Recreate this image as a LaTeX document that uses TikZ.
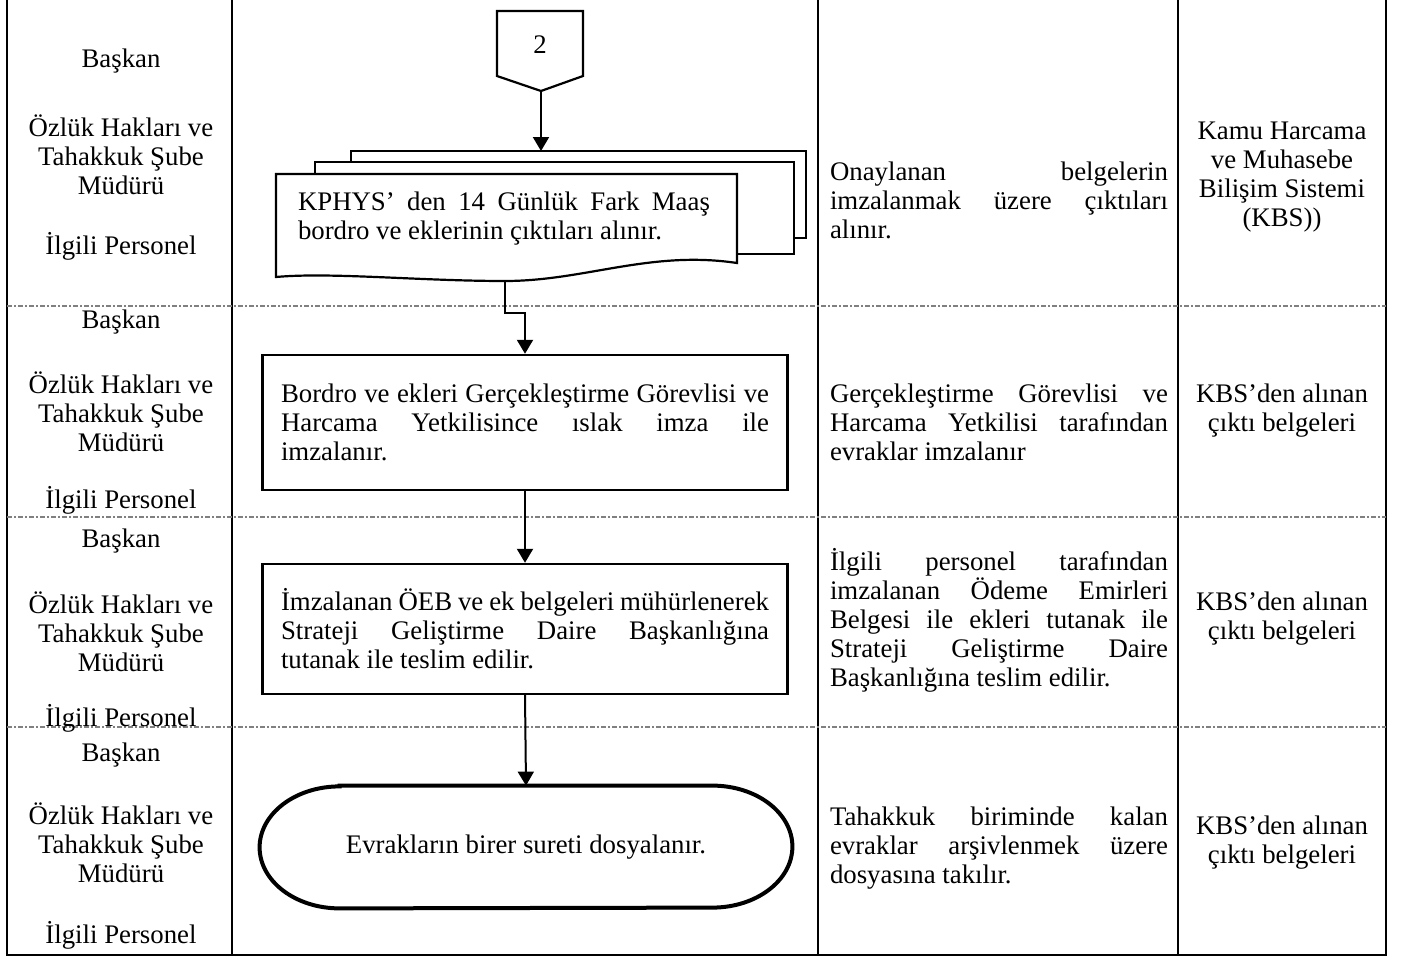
\documentclass[tikz,border=0pt]{standalone}
\usepackage{fontspec}
\setmainfont{Liberation Serif}
\usetikzlibrary{arrows.meta,calc}

\tikzset{
  every node/.style={font=\fontsize{13.4}{14.5}\selectfont, inner sep=0pt},
  gridline/.style={line width=1pt},
  sepline/.style={gray, line width=0.6pt, dash pattern=on 2.5pt off 1pt on 1pt off 1pt},
  shapeline/.style={line width=1.1pt},
  lane/.style={align=center},
  aciklama/.style={text width=169pt, align=justify},
  doctext/.style={text width=206pt, align=justify},
  procbox/.style={draw, line width=1.2pt, text width=244pt, align=justify, inner xsep=9.2pt},
  termtext/.style={minimum width=266pt, minimum height=61pt, align=center},
  akis/.style={line width=1pt, -{Triangle[length=7pt,width=8pt]}}
}

\begin{document}
\begin{tikzpicture}[x=0.5pt,y=-0.5pt]
  \useasboundingbox (0,0) rectangle (1404,958);

  % table
  \draw[gridline] (7,0) -- (7,955) -- (1386,955) -- (1386,0);
  \draw[gridline] (232,0) -- (232,955);
  \draw[gridline] (818,0) -- (818,955);
  \draw[gridline] (1178,0) -- (1178,955);
  \foreach \y in {306,517,727}
    \draw[sepline] (7,\y) -- (1386,\y);

  % lanes
  \foreach \r/\b/\m/\i in {1/61/155/246, 2/322/412/500, 3/541/632/718, 4/755/843/935} {
    \node[lane] (baskan\r) at (121,\b) {Başkan};
    \node[lane] (mudur\r) at (121,\m) {Özlük Hakları ve\\Tahakkuk Şube\\Müdürü};
    \node[lane] (personel\r) at (121,\i) {İlgili Personel};
  }

  % off-page connector
  \draw[shapeline] (497,11) -- (583,11) -- (583,76) -- (541,91) -- (497,76) -- cycle;
  \node (sayfa) at (540,45) {2};
  \coordinate (sayfaUc) at (541,91);

  % multi document
  \draw[shapeline, fill=white] (351,151) rectangle (806,238);
  \draw[shapeline, fill=white] (315,162) rectangle (794,254);
  \draw[shapeline, fill=white] (276,174) -- (737,174) -- (737,263)
    .. controls (650,250) and (585,281) .. (505,281)
    .. controls (420,281) and (330,272) .. (276,277) -- cycle;
  \node[doctext] (kphys) at (504,219) {KPHYS’ den 14 Günlük Fark Maaş\linebreak bordro ve eklerinin çıktıları alınır.};
  \coordinate (belgeUst) at (541,151);
  \coordinate (belgeAlt) at (505,281);

  % process steps
  \node[procbox, minimum height=67.5pt] (imza) at (525,422.5) {Bordro ve ekleri Gerçekleştirme Görevlisi ve\linebreak Harcama Yetkilisince ıslak imza ile\linebreak imzalanır.};
  \node[procbox, minimum height=65pt] (teslim) at (525,629) {İmzalanan ÖEB ve ek belgeleri mühürlenerek\linebreak Strateji Geliştirme Daire Başkanlığına\linebreak tutanak ile teslim edilir.};

  % terminal
  \node[termtext] (arsiv) at (526,847) {Evrakların birer sureti dosyalanır.};
  \draw[line width=2pt] ($(arsiv.north west)+(80,0)$) -- ($(arsiv.north east)+(-80,0)$)
    arc[start angle=-90, end angle=90, x radius=80, y radius=61]
    -- ($(arsiv.south west)+(80,0)$)
    arc[start angle=90, end angle=270, x radius=80, y radius=61] -- cycle;

  % flow
  \draw[akis] (sayfaUc) -- (belgeUst);
  \draw[akis] (belgeAlt) -- (505,313) -| (imza.north);
  \draw[akis] (imza.south) -- (teslim.north);
  \draw[akis] (teslim.south) -- (arsiv.north);

  % explanations
  \node[aciklama] (acik1) at (999,200) {Onaylanan belgelerin\linebreak imzalanmak üzere çıktıları\linebreak alınır.};
  \node[aciklama] (acik2) at (999,422) {Gerçekleştirme Görevlisi ve\linebreak Harcama Yetkilisi tarafından\linebreak evraklar imzalanır};
  \node[aciklama] (acik3) at (999,620) {İlgili personel tarafından\linebreak imzalanan Ödeme Emirleri\linebreak Belgesi ile ekleri tutanak ile\linebreak Strateji Geliştirme Daire\linebreak Başkanlığına teslim edilir.};
  \node[aciklama] (acik4) at (999,848) {Tahakkuk biriminde kalan\linebreak evraklar arşivlenmek üzere\linebreak dosyasına takılır.};

  % documents
  \node[lane] (kaynak1) at (1282,177) {Kamu Harcama\\ve Muhasebe\\Bilişim Sistemi\\(KBS))};
  \node[lane] (kaynak2) at (1282,411) {KBS’den alınan\\çıktı belgeleri};
  \node[lane] (kaynak3) at (1282,619) {KBS’den alınan\\çıktı belgeleri};
  \node[lane] (kaynak4) at (1282,843) {KBS’den alınan\\çıktı belgeleri};
\end{tikzpicture}
\end{document}
